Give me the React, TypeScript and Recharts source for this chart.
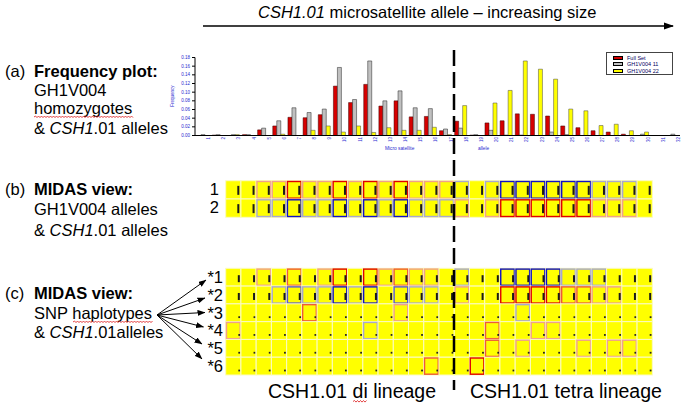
import React from 'react';
import { BarChart, Bar, XAxis, YAxis, Legend, ScatterChart, Scatter } from 'recharts';

// ---------- Frequency plot data ----------
const alleles = ['1','2','3','4','5','6','7','8','9','10','11','12','13','14','15','16','17','18','19','20','21','22','23','24','25','26','27','28','29','30','31','32'];
const fullSet = [0, 0.001, 0, 0.002, 0.013, 0.022, 0.042, 0.041, 0.048, 0.114, 0.076, 0.118, 0.068, 0.080, 0.043, 0.044, 0.011, 0.033, 0.001, 0.029, 0.034, 0.050, 0.049, 0.045, 0.022, 0.018, 0.011, 0.008, 0.003, 0, 0, 0];
const gh1v004_11 = [0.002, 0.002, 0.002, 0.002, 0.017, 0.034, 0.064, 0.053, 0.061, 0.157, 0.083, 0.172, 0.080, 0.103, 0.064, 0.062, 0.015, 0.017, 0.002, 0.012, 0.001, 0.001, 0, 0.008, 0.002, 0, 0, 0, 0, 0.003, 0, 0.003];
const gh1v004_22 = [0, 0, 0.002, 0, 0, 0.003, 0, 0.012, 0.022, 0.008, 0.022, 0.007, 0.018, 0.012, 0.012, 0.019, 0.002, 0.069, 0, 0.075, 0.104, 0.172, 0.153, 0.130, 0.061, 0.057, 0.023, 0.026, 0.011, 0.008, 0, 0];
const freqTicks = [0, 0.02, 0.04, 0.06, 0.08, 0.1, 0.12, 0.14, 0.16, 0.18];
const seriesNames = ['Full Set', 'GH1V004 11', 'GH1V004 22'];
const seriesColors = ['#d60000', '#c0c0c0', '#ffff00'];

// ---------- MIDAS views (border code per allele cell) ----------
const gridBLabels = ['1', '2'];
const gridB1 = ['', '', 'r1', 'r1', 'r3', 'r1', 'r1', 'r3', 'r1', 'r3', 'r1', 'r3', 'r1', 'r1', 'r1', 'b1', '', 'b1', 'b3', 'b3', 'b3', 'b3', 'b3', 'b3', 'b1', 'b1', 'b1', ''];
const gridB2 = ['', '', 'b1', 'b1', 'b3', 'b1', 'b1', 'b3', 'b1', 'b3', 'b1', 'b3', 'b1', 'b1', 'b1', 'r1', '', 'r1', 'r3', 'r3', 'r3', 'r3', 'r3', 'r3', 'r1', 'r1', 'r1', ''];

const gridCLabels = ['*1', '*2', '*3', '*4', '*5', '*6'];
const gridC1 = ['', '', 'r1', '', 'r2', '', 'r1', 'r3', '', 'r3', 'r1', 'r2', 'r1', 'r1', '', 'b1', '', '', 'b3', 'b3', 'b3', 'b3', 'b1', 'b1', 'b1', '', '', ''];
const gridC2 = ['', '', '', 'b1', 'b2', 'b1', 'b1', 'b3', 'b1', 'b3', '', 'b2', 'b1', 'b1', '', 'r1', '', '', 'r3', 'r3', 'r3', 'r3', 'r2', 'r2', 'r1', 'r1', '', ''];
const gridC3 = ['', '', '', '', '', 'r2', '', '', '', '', '', 'r1', '', '', '', '', '', '', '', 'b1', '', '', '', '', '', '', '', ''];
const gridC4 = ['r1', '', '', '', '', '', '', '', '', 'b1', '', '', '', '', '', '', '', 'r2', '', '', 'r1', 'r1', '', '', '', '', '', ''];
const gridC5 = ['', '', '', '', '', '', '', '', '', '', '', '', '', '', '', '', '', 'r2', '', 'r1', '', '', '', 'r1', '', 'r1', 'r1', ''];
const gridC6 = ['', '', '', '', '', '', '', '', '', '', '', '', '', 'r2', '', '', 'r3', '', '', '', '', '', '', '', '', '', '', ''];

const gridCMarks = ['bar', 'bar', 'dot', 'dot', 'dot', 'dot'];

const BORDER: Record<string, string> = {
  r3: '#e00000', r2: '#ee5a3a', r1: '#f0a08c',
  b3: '#1010c8', b2: '#5a5ad0', b1: '#a8a8d0',
};

const FONT = '"Liberation Sans", Arial, Helvetica, sans-serif';
const NCOLS = 28;

const freqData = alleles.map((a, i) => ({ allele: a, full: fullSet[i], g11: gh1v004_11[i], g22: gh1v004_22[i] }));

const buildGrid = (rows: string[][], marks: string[]) =>
  rows.flatMap((codes, ri) => codes.map((code, ci) => ({ col: ci + 1, row: ri + 1, code, mark: marks[ri] })));

const gridBData = buildGrid([gridB1, gridB2], ['barB', 'barB']);
const gridCData = buildGrid([gridC1, gridC2, gridC3, gridC4, gridC5, gridC6], gridCMarks);

const makeCellShape = (cw: number, ch: number) => (props: any) => {
  const { cx, cy, payload } = props;
  if (cx == null || cy == null) return null;
  const stroke = BORDER[payload.code];
  let mark = null;
  if (payload.mark === 'barB') mark = <rect x={cx + 4} y={cy - 4} width={2} height={9} fill="#1a1a1a" />;
  else if (payload.mark === 'bar') mark = <rect x={cx + 4.5} y={cy - 2} width={2} height={7} fill="#1a1a1a" />;
  else mark = <rect x={cx + 5} y={cy + 3.5} width={1.8} height={1.8} fill="#222" />;
  return (
    <g>
      <rect x={cx - cw / 2} y={cy - ch / 2} width={cw} height={ch} fill="#ffff00" stroke="#fbfbc4" strokeWidth={1} />
      {stroke ? <rect x={cx - cw / 2 + 0.8} y={cy - ch / 2 + 0.8} width={cw - 1.6} height={ch - 1.6} fill="none" stroke={stroke} strokeWidth={1.4} /> : null}
      {mark}
    </g>
  );
};

const XTick = (props: any) => {
  const { x, y, payload } = props;
  const tx = x + 6;
  const ty = y + 0.5;
  return (
    <text x={tx} y={ty} transform={`rotate(-90 ${tx} ${ty})`} textAnchor="end" dominantBaseline="central" fontSize={4.5} fill="#2a2ad0" fontFamily={FONT}>
      {payload.value}
    </text>
  );
};

const renderLegend = () => (
  <div style={{ width: 67, height: 23, border: '1px solid #444', background: '#fff', boxSizing: 'border-box', padding: '2px 0 0 6px', fontFamily: FONT }}>
    {seriesNames.map((n, i) => (
      <div key={n} style={{ display: 'flex', alignItems: 'center', height: 6.3 }}>
        <span style={{ display: 'inline-block', width: 10, height: 4, background: seriesColors[i], border: '0.6px solid #000', marginRight: 4, boxSizing: 'border-box' }} />
        <span style={{ fontSize: 5.5, color: '#000060', lineHeight: '6px', whiteSpace: 'nowrap' }}>{n}</span>
      </div>
    ))}
  </div>
);

const wavy = (x1: number, x2: number, y: number) => {
  let d = `M${x1},${y}`;
  let up = true;
  for (let x = x1 + 1.5; x <= x2; x += 1.5) {
    d += ` L${x.toFixed(1)},${(up ? y - 1 : y + 0.6).toFixed(1)}`;
    up = !up;
  }
  return d;
};

const fanTips: [number, number][] = [[206, 280], [205, 298], [205, 312.5], [203.5, 327], [202, 344], [202, 359]];

export default function App() {
  const textStyle = { fontFamily: FONT, fontSize: 16.5, fill: '#000' } as any;
  return (
    <div style={{ position: 'absolute', left: 0, top: 0, width: 685, height: 408, background: '#fff', overflow: 'hidden' }}>
      {/* Frequency plot */}
      <div style={{ position: 'absolute', left: 0, top: 0, width: 685, height: 160 }}>
        <BarChart width={685} height={160} data={freqData} margin={{ top: 57.5, right: 5, bottom: 10.5, left: 175 }} barCategoryGap={2} barGap={0}>
          <XAxis dataKey="allele" interval={0} tick={<XTick />} tickLine={false} tickSize={0} tickMargin={1} axisLine={{ stroke: '#000' }} height={14} />
          <XAxis xAxisId="top" orientation="top" dataKey="allele" tick={false} tickLine={false} axisLine={{ stroke: '#555' }} height={0} />
          <YAxis domain={[0, 0.18]} ticks={freqTicks} interval={0} tickFormatter={(v: number) => v.toFixed(2)} width={20} tickSize={3} tickMargin={2}
            tick={{ fontSize: 4.5, fill: '#2a2ad0', fontFamily: FONT }} axisLine={{ stroke: '#000' }} tickLine={{ stroke: '#000' }} />
          <YAxis yAxisId="right" orientation="right" domain={[0, 0.18]} tick={false} tickLine={false} axisLine={{ stroke: '#555' }} width={0} />
          <Legend layout="vertical" align="center" verticalAlign="middle" content={renderLegend}
            wrapperStyle={{ position: 'absolute', left: 606, top: 52, width: 67, height: 23 }} />
          <Bar dataKey="full" name={seriesNames[0]} fill={seriesColors[0]} stroke="#3a0000" strokeWidth={0.5} isAnimationActive={false} />
          <Bar dataKey="g11" name={seriesNames[1]} fill={seriesColors[1]} stroke="#222" strokeWidth={0.5} isAnimationActive={false} />
          <Bar dataKey="g22" name={seriesNames[2]} fill={seriesColors[2]} stroke="#444" strokeWidth={0.5} isAnimationActive={false} />
        </BarChart>
      </div>

      {/* MIDAS view (b) */}
      <div style={{ position: 'absolute', left: 0, top: 170, width: 685, height: 60 }}>
        <ScatterChart width={685} height={60} margin={{ top: 10.7, right: 32.7, bottom: 12.7, left: 225.7 }}>
          <XAxis type="number" dataKey="col" domain={[0.5, NCOLS + 0.5]} hide />
          <YAxis type="number" dataKey="row" domain={[0.5, gridBLabels.length + 0.5]} reversed hide />
          <Scatter data={gridBData} shape={makeCellShape(426.6 / NCOLS, 36.6 / 2)} isAnimationActive={false} />
        </ScatterChart>
      </div>

      {/* MIDAS view (c) */}
      <div style={{ position: 'absolute', left: 0, top: 260, width: 685, height: 125 }}>
        <ScatterChart width={685} height={125} margin={{ top: 8.3, right: 32.7, bottom: 10, left: 225.7 }}>
          <XAxis type="number" dataKey="col" domain={[0.5, NCOLS + 0.5]} hide />
          <YAxis type="number" dataKey="row" domain={[0.5, gridCLabels.length + 0.5]} reversed hide />
          <Scatter data={gridCData} shape={makeCellShape(426.6 / NCOLS, 106.7 / 6)} isAnimationActive={false} />
        </ScatterChart>
      </div>

      {/* Annotations */}
      <svg width={685} height={408} style={{ position: 'absolute', left: 0, top: 0, pointerEvents: 'none' }}>
        <defs>
          <marker id="ahBig" markerWidth={10} markerHeight={8} refX={9} refY={4} orient="auto" markerUnits="userSpaceOnUse">
            <path d="M0,0.5 L10,4 L0,7.5 z" fill="#000" />
          </marker>
          <marker id="ahSmall" markerWidth={8} markerHeight={6} refX={7.5} refY={3} orient="auto" markerUnits="userSpaceOnUse">
            <path d="M0,0 L8,3 L0,6 z" fill="#000" />
          </marker>
        </defs>

        {/* header */}
        <text x={258} y={18} {...textStyle}><tspan fontStyle="italic">CSH1.01</tspan> microsatellite allele – increasing size</text>
        <line x1={203} y1={26} x2={673} y2={26} stroke="#000" strokeWidth={1.5} markerEnd="url(#ahBig)" />

        {/* dashed lineage separator */}
        <line x1={454} y1={50} x2={454} y2={390} stroke="#000" strokeWidth={2.5} strokeDasharray="16 6" />

        {/* frequency plot axis titles */}
        <text x={174} y={96} transform="rotate(-90 174 96)" textAnchor="middle" fontSize={4.5} fill="#2a2ad0" fontFamily={FONT}>Frequency</text>
        <text x={385} y={150} fontSize={4.8} fill="#2a2ad0" fontFamily={FONT}>Micro satellite</text>
        <text x={478} y={150} fontSize={4.8} fill="#2a2ad0" fontFamily={FONT}>allele</text>

        {/* left panel (a) */}
        <text x={5} y={77} {...textStyle}>(a) <tspan x={34} fontWeight="bold">Frequency plot:</tspan></text>
        <text x={34} y={96} {...textStyle}>GH1V004</text>
        <text x={34} y={114} {...textStyle}>homozygotes</text>
        <path d={wavy(34, 133, 117)} stroke="#e03030" strokeWidth={0.9} fill="none" />
        <text x={34} y={134} {...textStyle}>&amp; <tspan fontStyle="italic">CSH1</tspan>.01 alleles</text>

        {/* left panel (b) */}
        <text x={5} y={195} {...textStyle}>(b) <tspan x={34} fontWeight="bold">MIDAS view:</tspan></text>
        <text x={34} y={215} {...textStyle}>GH1V004 alleles</text>
        <text x={34} y={235.5} {...textStyle}>&amp; <tspan fontStyle="italic">CSH1</tspan>.01 alleles</text>
        {gridBLabels.map((l, i) => (
          <text key={l} x={219} y={195 + i * 18.3} textAnchor="end" {...textStyle}>{l}</text>
        ))}

        {/* left panel (c) */}
        <text x={5} y={298.5} {...textStyle}>(c) <tspan x={34} fontWeight="bold">MIDAS view:</tspan></text>
        <text x={34} y={318.5} {...textStyle}>SNP haplotypes</text>
        <path d={wavy(73, 153, 322)} stroke="#e03030" strokeWidth={0.9} fill="none" />
        <text x={34} y={337.5} {...textStyle}>&amp; <tspan fontStyle="italic">CSH1</tspan>.01alleles</text>
        {gridCLabels.map((l, i) => (
          <text key={l} x={223} y={283 + i * 17.78} textAnchor="end" {...textStyle}>{l}</text>
        ))}
        {fanTips.map(([tx, ty], i) => (
          <line key={i} x1={157} y1={315} x2={tx} y2={ty} stroke="#000" strokeWidth={1} markerEnd="url(#ahSmall)" />
        ))}

        {/* lineage labels */}
        <text x={268} y={398} fontFamily={FONT} fontSize={19.5} fill="#000">CSH1.01 di lineage</text>
        <path d={wavy(353, 367, 401.5)} stroke="#e03030" strokeWidth={0.9} fill="none" />
        <text x={470} y={398} fontFamily={FONT} fontSize={19.5} fill="#000">CSH1.01 tetra lineage</text>
      </svg>
    </div>
  );
}
